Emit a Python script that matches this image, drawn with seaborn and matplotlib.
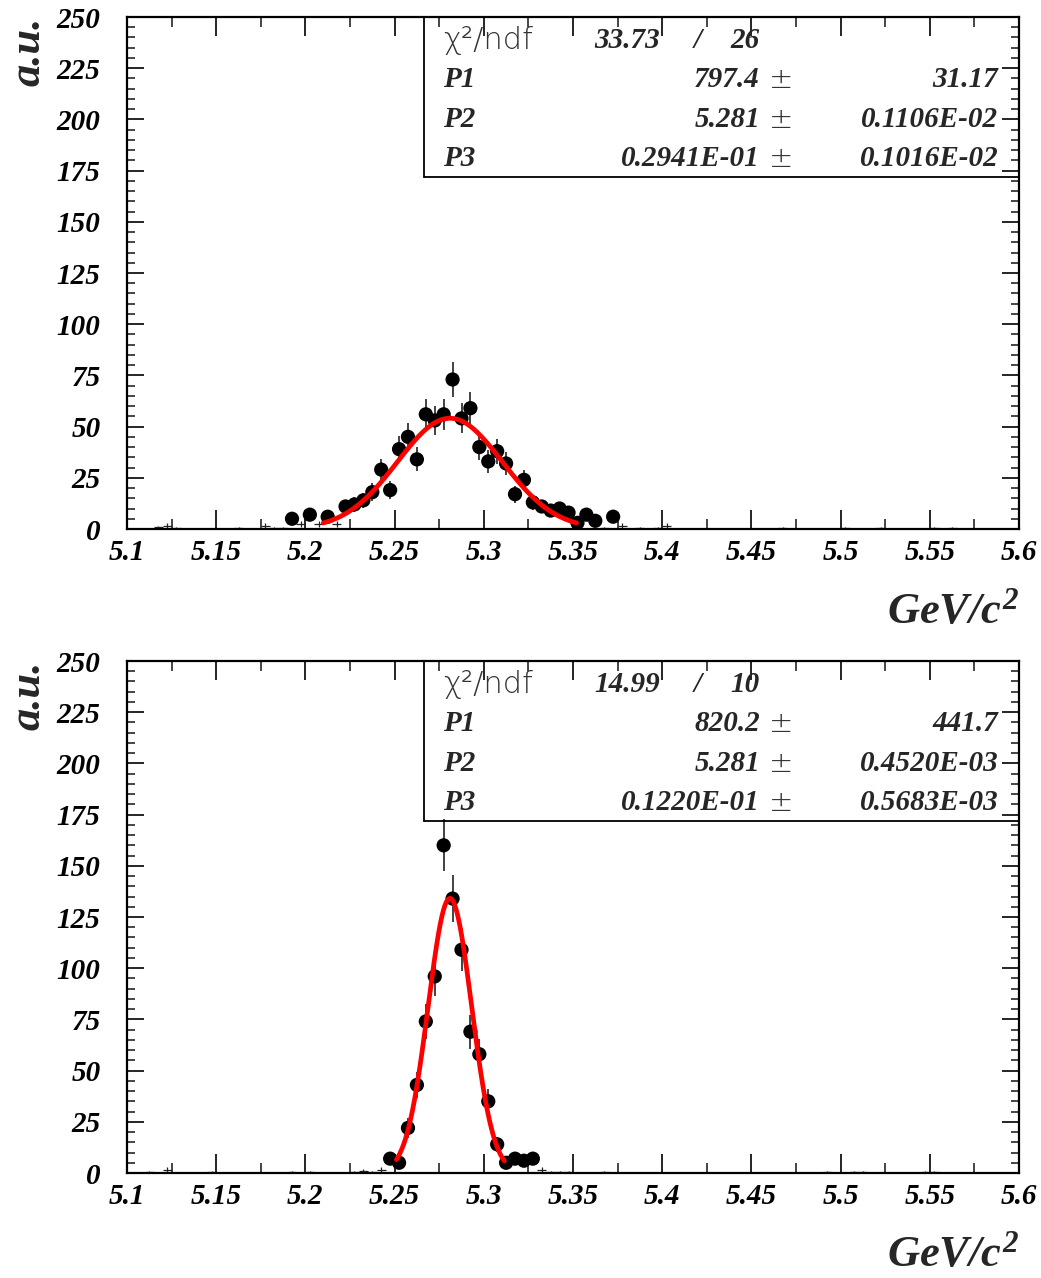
import numpy as np
import pandas as pd
import matplotlib
matplotlib.use("Agg")
import matplotlib.pyplot as plt
import seaborn as sns
from matplotlib.ticker import MultipleLocator, FixedLocator, FixedFormatter

# ---------------- data ----------------
BIN_WIDTH = 0.005
X_MIN, X_MAX = 5.1, 5.6
Y_MIN, Y_MAX = 0, 250

x_ticks = [5.1, 5.15, 5.2, 5.25, 5.3, 5.35, 5.4, 5.45, 5.5, 5.55, 5.6]
x_tick_labels = ["5.1", "5.15", "5.2", "5.25", "5.3", "5.35", "5.4", "5.45", "5.5", "5.55", "5.6"]
y_ticks = [0, 25, 50, 75, 100, 125, 150, 175, 200, 225, 250]

# top panel
top_dot_x = [5.1925, 5.2025, 5.2125, 5.2225, 5.2275, 5.2325, 5.2375, 5.2425, 5.2475, 5.2525,
             5.2575, 5.2625, 5.2675, 5.2725, 5.2775, 5.2825, 5.2875, 5.2925, 5.2975, 5.3025,
             5.3075, 5.3125, 5.3175, 5.3225, 5.3275, 5.3325, 5.3375, 5.3425, 5.3475, 5.3525,
             5.3575, 5.3625, 5.3725]
top_dot_y = [5, 7, 6, 11, 12, 14, 18, 29, 19, 39,
             45, 34, 56, 53, 56, 73, 54, 59, 40, 33,
             38, 32, 17, 24, 13, 11, 9, 10, 8, 3,
             7, 4, 6]
top_cross_x = [5.1175, 5.1225, 5.1275, 5.1625, 5.1775, 5.1825, 5.1875, 5.1975, 5.2075, 5.2175,
               5.3675, 5.3775, 5.3875, 5.3975, 5.4025, 5.4675, 5.5025, 5.5225, 5.5525, 5.5625]
top_cross_y = [0.8, 1.5, 0.5, 0.5, 1.5, 0.5, 0.5, 2.5, 2.5, 2.5,
               0.5, 1.5, 0.5, 0.5, 1.5, 0.5, 0.5, 0.5, 0.5, 0.5]
top_fit = {"chi2": "33.73", "ndf": "26",
           "P1": 797.4, "P2": 5.281, "P3": 0.02941,
           "P1_txt": "797.4", "P2_txt": "5.281", "P3_txt": "0.2941E-01",
           "E1_txt": "31.17", "E2_txt": "0.1106E-02", "E3_txt": "0.1016E-02"}
top_fit_range = (5.21, 5.352)

# bottom panel
bot_dot_x = [5.2475, 5.2525, 5.2575, 5.2625, 5.2675, 5.2725, 5.2775, 5.2825, 5.2875, 5.2925,
             5.2975, 5.3025, 5.3075, 5.3125, 5.3175, 5.3225, 5.3275]
bot_dot_y = [7, 5, 22, 43, 74, 96, 160, 134, 109, 69,
             58, 35, 14, 5, 7, 6, 7]
bot_cross_x = [5.1125, 5.1225, 5.1475, 5.1925, 5.2025, 5.2275, 5.2325, 5.2375, 5.2425,
               5.3325, 5.3375, 5.3425, 5.3475, 5.3675, 5.4925, 5.5075, 5.5125, 5.5475, 5.5525]
bot_cross_y = [0.5, 1.5, 0.5, 0.5, 0.5, 0.5, 1.0, 0.5, 1.5,
               1.5, 0.5, 0.5, 0.5, 0.5, 0.5, 0.5, 0.5, 0.5, 0.5]
bot_fit = {"chi2": "14.99", "ndf": "10",
           "P1": 820.2, "P2": 5.281, "P3": 0.01220,
           "P1_txt": "820.2", "P2_txt": "5.281", "P3_txt": "0.1220E-01",
           "E1_txt": "441.7", "E2_txt": "0.4520E-03", "E3_txt": "0.5683E-03"}
bot_fit_range = (5.251, 5.3115)

# ---------------- style ----------------
sns.set_theme(style="white")
plt.rcParams["font.family"] = ["Liberation Serif", "DejaVu Sans"]
plt.rcParams["mathtext.fontset"] = "custom"
plt.rcParams["mathtext.rm"] = "Liberation Serif:italic:bold"
plt.rcParams["mathtext.it"] = "Liberation Serif:italic:bold"
plt.rcParams["mathtext.bf"] = "Liberation Serif:italic:bold"

TICK_FONT = dict(family="Liberation Serif", weight="bold", style="italic", size=21)
STAT_FONT = dict(family="Liberation Serif", weight="bold", style="italic", size=21)

fig = plt.figure(figsize=(10.41, 12.78), dpi=100)
W, H = 1041, 1278


def fig_ax(left_px, top_px, right_px, bottom_px):
    return fig.add_axes([left_px / W, 1 - bottom_px / H,
                         (right_px - left_px) / W, (bottom_px - top_px) / H])


def draw_panel(ax, dot_x, dot_y, cross_x, cross_y, fit, fit_range):
    dots = pd.DataFrame({"mass": dot_x, "count": dot_y})
    crosses = pd.DataFrame({"mass": cross_x, "count": cross_y})

    # error bars
    ax.errorbar(dots["mass"], dots["count"], yerr=np.sqrt(dots["count"]),
                fmt="none", ecolor="#222222", elinewidth=1.2, zorder=2)
    ax.errorbar(crosses["mass"], crosses["count"], xerr=BIN_WIDTH / 2,
                yerr=np.sqrt(crosses["count"]),
                fmt="none", ecolor="#222222", elinewidth=0.9, zorder=2)
    # markers
    sns.scatterplot(data=dots, x="mass", y="count", ax=ax, color="black",
                    s=105, edgecolor="none", zorder=3, legend=False)
    # fit curve (gaussian with fitted parameters, scaled to bin width)
    xf = np.linspace(fit_range[0], fit_range[1], 300)
    yf = fit["P1"] * BIN_WIDTH / (np.sqrt(2 * np.pi) * fit["P3"]) * \
        np.exp(-0.5 * ((xf - fit["P2"]) / fit["P3"]) ** 2)
    sns.lineplot(x=xf, y=yf, ax=ax, color="red", linewidth=3.4, zorder=4,
                 estimator=None, sort=False)

    ax.set_xlim(X_MIN, X_MAX)
    ax.set_ylim(Y_MIN, Y_MAX)
    ax.set_xlabel("")
    ax.set_ylabel("")

    ax.xaxis.set_major_locator(FixedLocator(x_ticks))
    ax.xaxis.set_major_formatter(FixedFormatter(x_tick_labels))
    ax.xaxis.set_minor_locator(MultipleLocator(0.025))
    ax.yaxis.set_major_locator(FixedLocator(y_ticks))
    ax.yaxis.set_minor_locator(MultipleLocator(5))

    ax.tick_params(axis="x", which="major", direction="in", length=14, width=1.2,
                   top=True, bottom=True, pad=7, colors="black")
    ax.tick_params(axis="x", which="minor", direction="in", length=7, width=1.2,
                   top=True, bottom=True)
    ax.tick_params(axis="y", which="major", direction="in", length=12, width=1.2,
                   left=True, right=True, pad=19, colors="black")
    ax.tick_params(axis="y", which="minor", direction="in", length=6, width=1.2,
                   left=True, right=True)
    for lab in ax.get_xticklabels() + ax.get_yticklabels():
        lab.set_fontfamily(TICK_FONT["family"])
        lab.set_fontweight(TICK_FONT["weight"])
        lab.set_fontstyle(TICK_FONT["style"])
        lab.set_fontsize(TICK_FONT["size"])

    for sp in ax.spines.values():
        sp.set_visible(True)
        sp.set_color("black")
        sp.set_linewidth(1.6)
    ax.grid(False)
    ax.set_facecolor("white")

    # stats box
    bx = 0.333
    by = 0.6875
    ax.plot([bx, bx], [by, 1.0], transform=ax.transAxes, color="black", lw=1.3,
            clip_on=False, zorder=5)
    ax.plot([bx, 1.0], [by, by], transform=ax.transAxes, color="black", lw=1.3,
            clip_on=False, zorder=5)
    rows = [0.955, 0.877, 0.799, 0.723]
    ax.text(0.354, rows[0], "χ²/ndf", transform=ax.transAxes, ha="left", va="center",
            family="DejaVu Sans", weight="light", size=22, color="#333333")
    ax.text(0.598, rows[0], fit["chi2"], transform=ax.transAxes, ha="right", va="center",
            **STAT_FONT)
    ax.text(0.640, rows[0], "/", transform=ax.transAxes, ha="center", va="center",
            **STAT_FONT)
    ax.text(0.7096, rows[0], fit["ndf"], transform=ax.transAxes, ha="right", va="center",
            **STAT_FONT)
    for i, name in enumerate(["P1", "P2", "P3"]):
        r = rows[i + 1]
        ax.text(0.354, r, name, transform=ax.transAxes, ha="left", va="center", **STAT_FONT)
        ax.text(0.7096, r, fit[name + "_txt"], transform=ax.transAxes, ha="right",
                va="center", **STAT_FONT)
        ax.text(0.733, r, "±", transform=ax.transAxes, ha="center", va="center",
                family="DejaVu Sans", weight="light", size=21, color="#333333")
        ax.text(0.977, r, fit["E" + name[1] + "_txt"], transform=ax.transAxes, ha="right",
                va="center", **STAT_FONT)


ax_top = fig_ax(127, 17, 1019, 529)
draw_panel(ax_top, top_dot_x, top_dot_y, top_cross_x, top_cross_y, top_fit, top_fit_range)
ax_bot = fig_ax(127, 661, 1019, 1173)
draw_panel(ax_bot, bot_dot_x, bot_dot_y, bot_cross_x, bot_cross_y, bot_fit, bot_fit_range)

LABEL_FONT = dict(family="Liberation Serif", weight="bold", style="italic", size=32)
for top_px in (17, 661):
    fig.text(28 / W, 1 - top_px / H, "a.u.", rotation=90, ha="center", va="top", **LABEL_FONT)
for cy_px in (612, 1255):
    fig.text(1019 / W, 1 - cy_px / H, r"$GeV/c^2$", ha="right", va="center", size=32)

fig.savefig("out.png", dpi=100, facecolor="white")
